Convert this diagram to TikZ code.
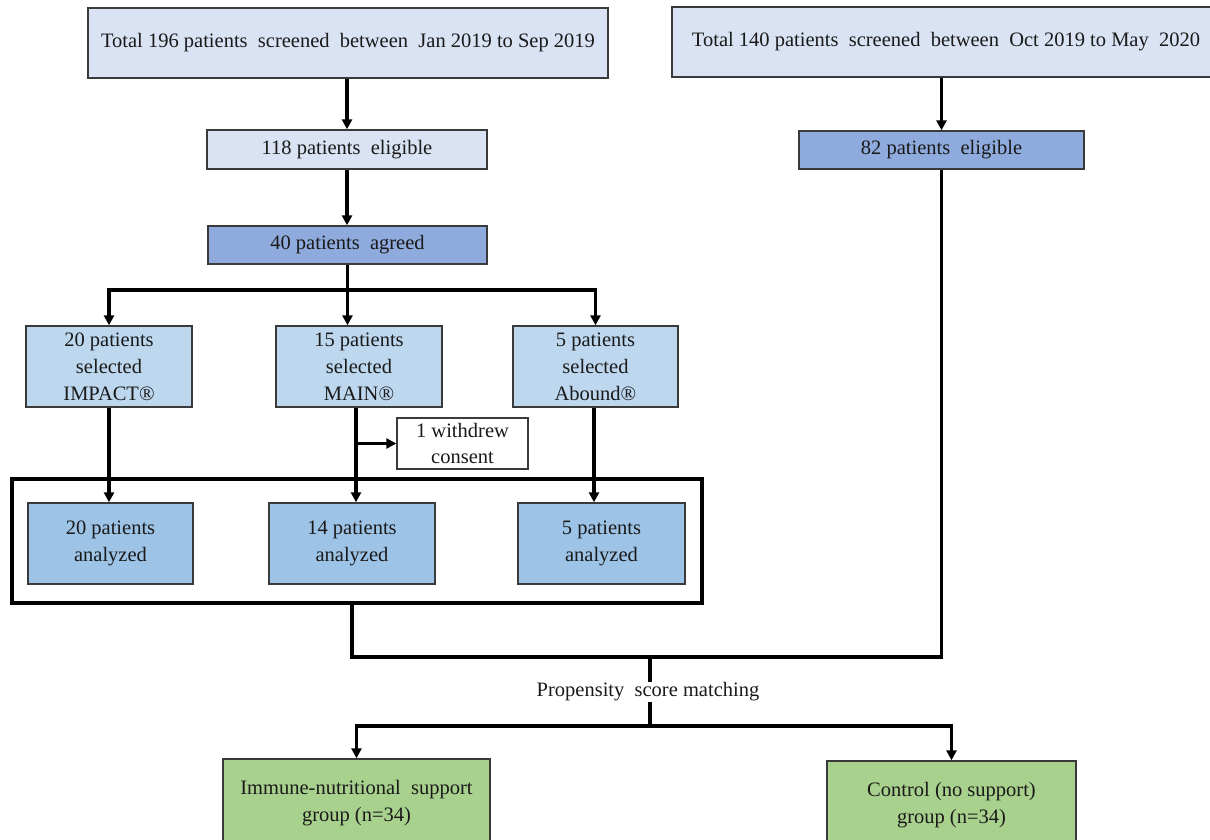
\documentclass[tikz,border=0pt]{standalone}
\usepackage{fontspec}
\setmainfont{Liberation Serif}
\usetikzlibrary{arrows.meta,calc}
\definecolor{cTop}{HTML}{DAE3F3}
\definecolor{cDark}{HTML}{8FAADC}
\definecolor{cSel}{HTML}{BDD7EE}
\definecolor{cAna}{HTML}{9DC3E6}
\definecolor{cGreen}{HTML}{A9D18E}
\definecolor{cBorder}{HTML}{3A3A3A}
\definecolor{cText}{HTML}{1A1A1A}
\begin{document}
\begin{tikzpicture}[x=1pt,y=-1pt,
  box/.style={draw=cBorder, line width=1.4pt, align=center, inner sep=2pt, text=cText,
    font=\fontsize{20.5}{27}\selectfont},
  conn/.style={line width=3.5pt, draw=black},
  arr/.style={conn, -{Triangle[length=10pt,width=10pt]}},
  lbl/.style={inner sep=0.5pt, text=cText, font=\fontsize{20.5}{27}\selectfont}
]
\useasboundingbox (0,0) rectangle (1210,839);
\clip (0,0) rectangle (1210,839);

% top row
\node[box, fill=cTop, minimum width=520pt, minimum height=70pt] (top1) at (348,43)
  {Total 196 patients\ \ screened\ \ between\ \ Jan 2019 to Sep 2019};
\node[box, fill=cTop, minimum width=548pt, minimum height=70pt] (top2) at (946,42)
  {Total 140 patients\ \ screened\ \ between\ \ Oct 2019 to May\ \ 2020};

\node[box, fill=cTop, minimum width=280pt, minimum height=39pt] (elig1) at (347,149.5)
  {118 patients\ \ eligible};
\node[box, fill=cDark, minimum width=285pt, minimum height=38pt] (elig2) at (941.5,150)
  {82 patients\ \ eligible};
\node[box, fill=cDark, minimum width=279pt, minimum height=38pt] (agreed) at (347.5,245)
  {40 patients\ \ agreed};

% selected
\node[box, fill=cSel, minimum width=166pt, minimum height=81pt] (impact) at (109,366.5)
  {20 patients\\selected\\IMPACT®};
\node[box, fill=cSel, minimum width=166pt, minimum height=81pt] (main) at (359,366.5)
  {15 patients\\selected\\MAIN®};
\node[box, fill=cSel, minimum width=165pt, minimum height=81pt] (abound) at (595.5,366.5)
  {5 patients\\selected\\Abound®};

\node[box, fill=white, minimum width=131pt, minimum height=51pt, inner sep=1pt,
  font=\fontsize{20.5}{25.5}\selectfont] (withdrew) at (462.5,443.5)
  {1 withdrew\\consent};

% analyzed group
\node[draw=black, line width=4pt, minimum width=690pt, minimum height=124pt, inner sep=0pt] (grp) at (357,541) {};
\node[box, fill=cAna, minimum width=165pt, minimum height=81pt] (an1) at (110.5,543.5)
  {20 patients\\analyzed};
\node[box, fill=cAna, minimum width=166pt, minimum height=81pt] (an2) at (352,543.5)
  {14 patients\\analyzed};
\node[box, fill=cAna, minimum width=167pt, minimum height=81pt] (an3) at (601.5,543.5)
  {5 patients\\analyzed};

% matching
\node[lbl] (psm) at (648,692) {Propensity\ \ score matching};

% final groups
\node[box, fill=cGreen, minimum width=267pt, minimum height=88pt] (green1) at (356.5,803)
  {Immune-nutritional\ \ support\\group (n=34)};
\node[box, fill=cGreen, minimum width=249pt, minimum height=88pt] (green2) at (951.5,805)
  {Control (no support)\\group (n=34)};

% connectors
\draw[arr] (top1.south -| elig1.north) -- (elig1.north);
\draw[arr] (elig1.south) -- (elig1.south |- agreed.north);
\draw[arr] (elig2.north |- top2.south) -- (elig2.north);

\coordinate (br) at (347.5,290);
\draw[conn] (agreed.south) -- (br);
\draw[arr] (br) -| (impact.north);
\draw[arr] (br) -| (abound.north);
\draw[arr] (br) -- (br |- main.north);

\coordinate (mx) at (356,0);
\coordinate (ax) at (594,0);
\draw[arr] (impact.south) -- (impact.south |- an1.north);
\draw[arr] (mx |- main.south) -- (mx |- an2.north);
\draw[arr] (mx |- withdrew.west) -- (withdrew.west);
\draw[arr] (ax |- abound.south) -- (ax |- an3.north);

\coordinate (j1) at (352,657);
\draw[conn] (j1 |- grp.south) -- (j1) -- (elig2.south |- j1) -- (elig2.south);
\coordinate (pc) at (650,657);
\coordinate (j3) at (650,726);
\draw[conn] (pc) -- (pc |- psm.north);
\draw[conn] (pc |- psm.south) -- (j3);
\draw[arr] (j3) -| (green1.north);
\draw[arr] (j3) -| (green2.north);
\end{tikzpicture}
\end{document}
